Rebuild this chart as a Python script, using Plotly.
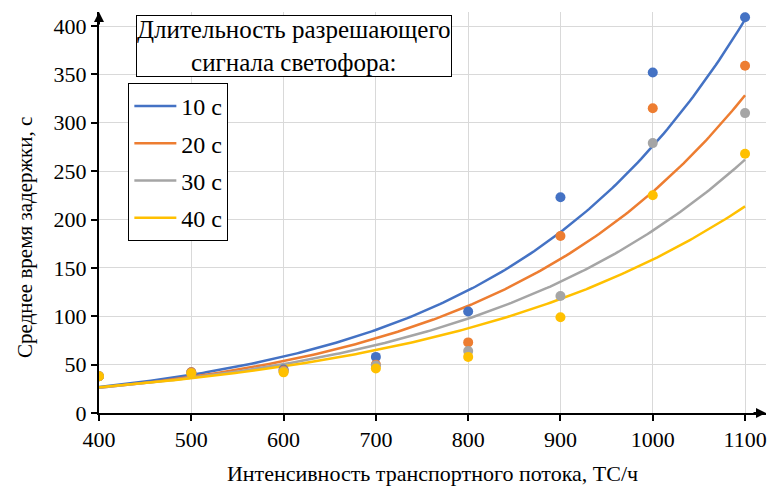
import numpy as np
import plotly.graph_objects as go

flow = [400, 500, 600, 700, 800, 900, 1000, 1100]
series_names = ["10 с", "20 с", "30 с", "40 с"]
delay_10 = [38, 42, 45, 58, 105, 223, 352, 409]
delay_20 = [38, 42, 44, 50, 73, 183, 315, 359]
delay_30 = [38, 41, 43, 49, 64, 121, 279, 310]
delay_40 = [38, 41, 42, 46, 58, 99, 225, 268]
colors = ["#4472C4", "#ED7D31", "#A5A5A5", "#FFC000"]
x_ticks = [400, 500, 600, 700, 800, 900, 1000, 1100]
y_ticks = [0, 50, 100, 150, 200, 250, 300, 350, 400]

FONT = "Liberation Serif"
FS = 22
fig = go.Figure()
xs = np.linspace(400, 1100, 200)
all_series = [delay_10, delay_20, delay_30, delay_40]
for name, ys, c in zip(series_names, all_series, colors):
    b, a = np.polyfit(np.array(flow, float), np.log(np.array(ys, float)), 1)
    fig.add_trace(go.Scatter(x=xs, y=np.exp(a + b * xs), mode="lines", name=name,
                             line=dict(color=c, width=2.5), legendgroup=name))
for name, ys, c in zip(series_names, all_series, colors):
    fig.add_trace(go.Scatter(x=flow, y=ys, mode="markers", showlegend=False,
                             marker=dict(color=c, size=10), legendgroup=name))

fig.update_layout(
    width=768, height=486,
    margin=dict(l=99, r=2, t=12, b=73),
    paper_bgcolor="white", plot_bgcolor="white",
    font=dict(family=FONT, size=FS, color="black"),
    showlegend=True,
    legend=dict(x=0.044, y=0.823, xanchor="left", yanchor="top",
                bordercolor="black", borderwidth=1, bgcolor="white",
                font=dict(family=FONT, size=24), itemwidth=42,
                traceorder="grouped", tracegroupgap=3),
    xaxis=dict(range=[400, 1122.7], tickvals=x_ticks, showgrid=True, gridcolor="#d9d9d9",
               showline=True, linecolor="black", linewidth=2, ticks="outside",
               ticklen=6, tickwidth=2, tickcolor="black", zeroline=False,
               title=dict(text="Интенсивность транспортного потока, ТС/ч", standoff=16,
                          font=dict(family=FONT, size=FS)),
               tickfont=dict(family=FONT, size=FS)),
    yaxis=dict(range=[0, 414.5], tickvals=y_ticks, showgrid=True, gridcolor="#d9d9d9",
               showline=True, linecolor="black", linewidth=2, ticks="outside",
               ticklen=6, tickwidth=2, tickcolor="black", zeroline=False,
               tickfont=dict(family=FONT, size=FS)),
)
fig.add_annotation(xref="paper", yref="paper", x=-0.111, y=0.439,
                   xanchor="center", yanchor="middle", textangle=-90,
                   text="Среднее время задержки, с", showarrow=False,
                   font=dict(family=FONT, size=21))
fig.add_annotation(xref="paper", yref="paper", x=0.292, y=0.915,
                   xanchor="center", yanchor="middle",
                   text="Длительность разрешающего<br>сигнала светофора:",
                   showarrow=False, bordercolor="black", borderwidth=1, bgcolor="white",
                   borderpad=0, font=dict(family=FONT, size=25))
fig.add_annotation(xref="paper", yref="paper", x=1.0, y=0, ax=-14, ay=0,
                   text="", showarrow=True, arrowhead=2, arrowsize=1, arrowwidth=2,
                   arrowcolor="black")
fig.add_annotation(xref="paper", yref="paper", x=0, y=1.0, ax=0, ay=14,
                   text="", showarrow=True, arrowhead=2, arrowsize=1, arrowwidth=2,
                   arrowcolor="black")
fig.write_html("out.html")
